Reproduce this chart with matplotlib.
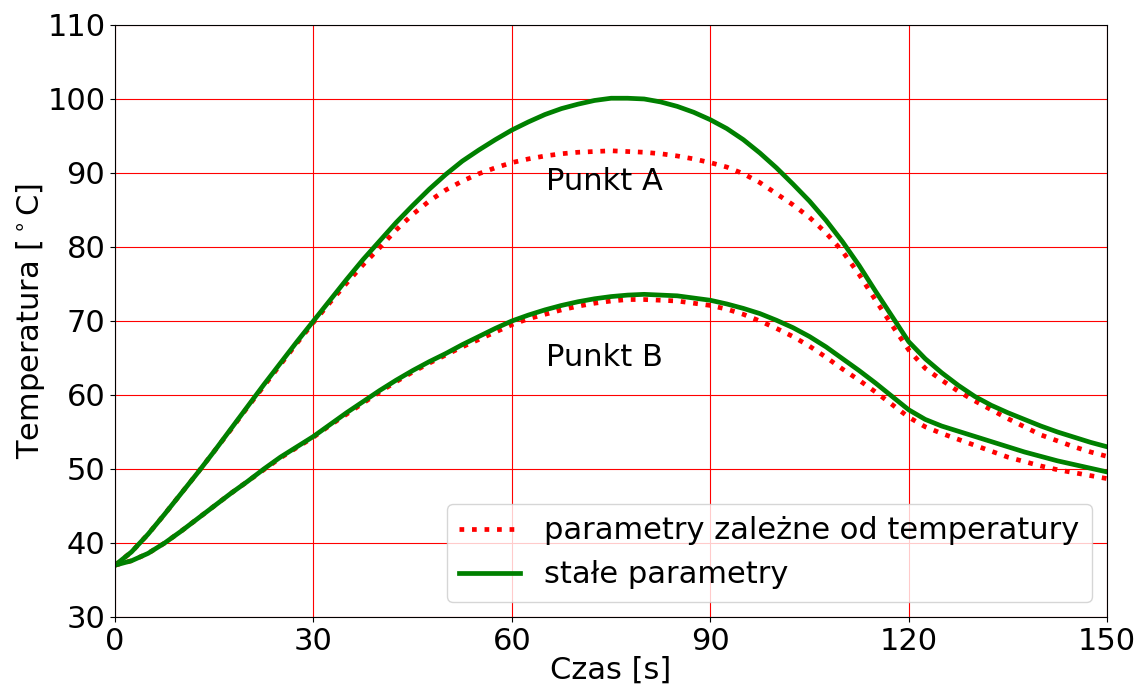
import matplotlib
matplotlib.use("Agg")
import matplotlib.pyplot as plt

t = [0, 2.5, 5, 7.5, 10, 12.5, 15, 17.5, 20, 22.5, 25, 27.5, 30, 32.5, 35, 37.5,
     40, 42.5, 45, 47.5, 50, 52.5, 55, 57.5, 60, 62.5, 65, 67.5, 70, 72.5, 75,
     77.5, 80, 82.5, 85, 87.5, 90, 92.5, 95, 97.5, 100, 102.5, 105, 107.5, 110,
     112.5, 115, 117.5, 120, 122.5, 125, 127.5, 130, 132.5, 135, 137.5, 140,
     142.5, 145, 147.5, 150]

stale_A = [37.0, 38.8, 41.2, 43.9, 46.7, 49.5, 52.4, 55.4, 58.4, 61.4, 64.3, 67.2,
           70.0, 72.8, 75.6, 78.3, 80.8, 83.3, 85.6, 87.8, 89.8, 91.6, 93.1, 94.5,
           95.8, 96.9, 97.9, 98.7, 99.3, 99.8, 100.1, 100.1, 100.0, 99.6, 99.0,
           98.2, 97.2, 96.0, 94.5, 92.7, 90.7, 88.5, 86.2, 83.6, 80.7, 77.5, 74.0,
           70.6, 67.2, 64.9, 63.0, 61.3, 59.8, 58.6, 57.6, 56.7, 55.8, 55.0, 54.3,
           53.6, 53.0]
zalezne_A = [37.0, 38.8, 41.2, 43.9, 46.7, 49.5, 52.4, 55.3, 58.3, 61.2, 64.1, 67.0,
             69.8, 72.5, 75.1, 77.6, 79.9, 82.3, 84.4, 86.2, 87.7, 88.9, 89.9, 90.7,
             91.4, 91.9, 92.3, 92.6, 92.8, 92.9, 93.0, 92.9, 92.8, 92.6, 92.3,
             91.9, 91.4, 90.8, 89.9, 88.7, 87.2, 85.7, 84.0, 81.9, 79.4, 76.3, 72.8,
             69.4, 66.1, 63.6, 62.0, 60.5, 59.2, 58.0, 56.8, 55.7, 54.6, 53.8, 53.0,
             52.3, 51.7]
stale_B = [37.0, 37.6, 38.6, 40.0, 41.6, 43.3, 45.0, 46.7, 48.3, 50.0, 51.6, 53.0,
           54.4, 56.0, 57.6, 59.1, 60.6, 62.0, 63.3, 64.5, 65.6, 66.8, 67.9, 69.0,
           70.0, 70.8, 71.5, 72.1, 72.6, 73.0, 73.3, 73.5, 73.6, 73.5, 73.4, 73.1,
           72.8, 72.3, 71.7, 71.0, 70.1, 69.1, 67.9, 66.5, 64.9, 63.3, 61.6, 59.8,
           58.0, 56.7, 55.8, 55.1, 54.4, 53.7, 53.0, 52.3, 51.7, 51.1, 50.6, 50.1,
           49.6]
zalezne_B = [37.0, 37.6, 38.6, 40.0, 41.6, 43.3, 45.0, 46.7, 48.3, 49.9, 51.5, 52.9,
             54.3, 55.9, 57.4, 58.9, 60.4, 61.8, 63.1, 64.3, 65.4, 66.5, 67.5, 68.5,
             69.5, 70.3, 70.9, 71.5, 72.0, 72.4, 72.7, 72.9, 72.9, 72.8, 72.7, 72.4,
             72.1, 71.6, 70.9, 70.0, 69.0, 67.9, 66.6, 65.1, 63.5, 62.0, 60.4, 58.7,
             57.0, 55.7, 54.8, 54.0, 53.2, 52.4, 51.6, 51.0, 50.4, 49.9, 49.5, 49.1,
             48.7]

xticks = [0, 30, 60, 90, 120, 150]
yticks = [30, 40, 50, 60, 70, 80, 90, 100, 110]

FS = 22
LW = 3.4
fig = plt.figure(figsize=(11.39, 6.88), dpi=100)
ax = fig.add_axes([0.101, 0.1032, 0.871, 0.8605])

ax.plot(t, zalezne_A, color="red", linestyle=":", linewidth=LW,
        label="parametry zależne od temperatury")
ax.plot(t, stale_A, color="green", linestyle="-", linewidth=LW,
        label="stałe parametry")
ax.plot(t, zalezne_B, color="red", linestyle=":", linewidth=LW)
ax.plot(t, stale_B, color="green", linestyle="-", linewidth=LW)

ax.text(65.2, 87.7, "Punkt A", fontsize=FS)
ax.text(65.2, 63.9, "Punkt B", fontsize=FS)

ax.set_xlim(0, 150)
ax.set_ylim(30, 110)
ax.set_xticks(xticks)
ax.set_yticks(yticks)
ax.tick_params(labelsize=FS)
ax.grid(True, color="red", linewidth=0.8)
ax.set_axisbelow(True)

ax.set_xlabel("Czas [s]", fontsize=FS, labelpad=0)
ax.set_ylabel("Temperatura [$^\\circ$C]", fontsize=FS, labelpad=0)

ax.legend(loc="lower right", fontsize=FS, handlelength=2.0)

fig.savefig("out.png", dpi=100)
